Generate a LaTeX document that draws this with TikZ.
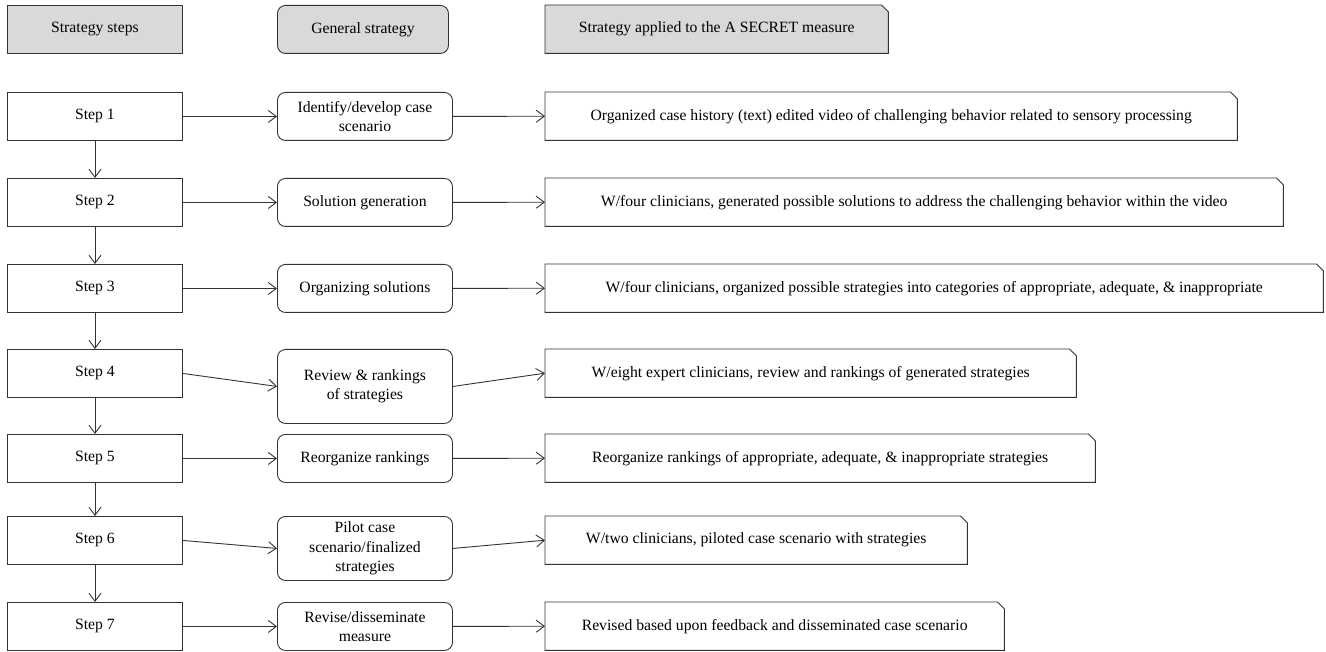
\documentclass[tikz,border=0pt]{standalone}
\usepackage{fontspec}
\setmainfont{Liberation Serif}
\usetikzlibrary{arrows.meta}
\definecolor{linec}{HTML}{333333}
\definecolor{hdr}{HTML}{D9D9D9}
\newcommand\snipoutline[2][]{\draw[draw=linec,line width=0.9pt,#1] (#2.north west) -- ([xshift=-7pt]#2.north east) -- ([yshift=-7pt]#2.north east) -- (#2.south east) -- (#2.south west) -- cycle;}
\begin{document}
\begin{tikzpicture}[x=1pt,y=-1pt,
  every node/.style={font=\fontsize{15.7}{19.5}\selectfont, text=black, inner sep=0pt, anchor=north west, align=center},
  stepbox/.style={draw=linec, line width=0.9pt, minimum width=175pt, minimum height=48pt},
  midbox/.style={draw=linec, line width=0.9pt, rounded corners=8pt, minimum width=175pt, minimum height=48pt},
  rbox/.style={minimum height=48pt},
  hdrfill/.style={fill=hdr},
  arr/.style={draw=linec, line width=0.9pt, -{Straight Barb[length=8pt,width=12pt]}},
]
\useasboundingbox (0,0) rectangle (1326,652);
% header row
\node[stepbox, hdrfill] (h1) at (7,5) {Strategy steps};
\node[midbox, hdrfill, minimum width=171pt] (h2) at (277,5) {General strategy};
\node[rbox, minimum width=343pt] (h3) at (545,5) {};
\snipoutline[fill=hdr]{h3}
\node at (h3.center) [anchor=center] {Strategy applied to the A SECRET measure};
% steps
\node[stepbox] (s1) at (7,92) {Step 1};
\node[stepbox] (s2) at (7,178) {Step 2};
\node[stepbox] (s3) at (7,264) {Step 3};
\node[stepbox] (s4) at (7,349) {Step 4};
\node[stepbox] (s5) at (7,434) {Step 5};
\node[stepbox] (s6) at (7,516) {Step 6};
\node[stepbox] (s7) at (7,602) {Step 7};
% middle
\node[midbox] (m1) at (277,92) {Identify/develop case\\scenario};
\node[midbox] (m2) at (277,178) {Solution generation};
\node[midbox] (m3) at (277,264) {Organizing solutions};
\node[midbox, minimum height=74pt] (m4) at (277,349) {Review \& rankings\\of strategies};
\node[midbox] (m5) at (277,434) {Reorganize rankings};
\node[midbox, minimum height=64pt] (m6) at (277,516) {Pilot case\\scenario/finalized\\strategies};
\node[midbox] (m7) at (277,602) {Revise/disseminate\\measure};
% right
\node[rbox, minimum width=692pt] (r1) at (545,92) {Organized case history (text) edited video of challenging behavior related to sensory processing};
\node[rbox, minimum width=738pt] (r2) at (545,178) {W/four clinicians, generated possible solutions to address the challenging behavior within the video};
\node[rbox, minimum width=778pt] (r3) at (545,264) {W/four clinicians, organized possible strategies into categories of appropriate, adequate, \& inappropriate};
\node[rbox, minimum width=531pt] (r4) at (545,349) {W/eight expert clinicians, review and rankings of generated strategies};
\node[rbox, minimum width=550pt] (r5) at (545,434) {Reorganize rankings of appropriate, adequate, \& inappropriate strategies};
\node[rbox, minimum width=422pt] (r6) at (545,516) {W/two clinicians, piloted case scenario with strategies};
\node[rbox, minimum width=459pt] (r7) at (545,602) {Revised based upon feedback and disseminated case scenario};
\foreach \i in {1,...,7}{\snipoutline{r\i}}
% vertical arrows
\foreach \i/\j in {1/2,2/3,3/4,4/5,5/6,6/7}{\draw[arr] (s\i.south) -- (s\j.north);}
% horizontal arrows
\foreach \i in {1,...,7}{
  \draw[arr] (s\i.east) -- (m\i.west);
  \draw[arr] (m\i.east) -- (r\i.west);
}
\end{tikzpicture}
\end{document}
